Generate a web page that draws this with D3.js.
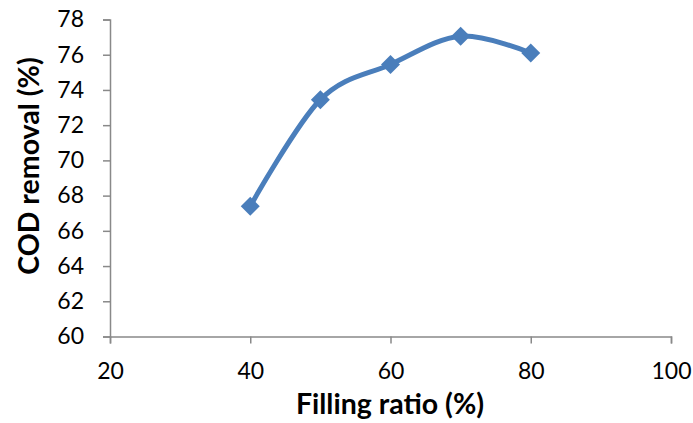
<!DOCTYPE html>
<html><head><meta charset="utf-8">
<script src="https://cdn.jsdelivr.net/npm/d3@7"></script>
<style>body{margin:0;background:#fff}</style>
</head><body>
<svg id="c" width="693" height="423"></svg>
<script>
const fillingRatio = [40, 50, 60, 70, 80];
const codRemoval = [67.4, 73.45, 75.45, 77.05, 76.1];
const xTicks = [20, 40, 60, 80, 100];
const yTicks = [60, 62, 64, 66, 68, 70, 72, 74, 76, 78];
const xTitle = "Filling ratio (%)";
const yTitle = "COD removal (%)";

const svg = d3.select("#c");
const font = "Lato, 'Open Sans', sans-serif";
const x = d3.scaleLinear().domain([20, 100]).range([110, 671]);
const y = d3.scaleLinear().domain([60, 78]).range([336.5, 19.5]);
const axisColor = "#898989";

const xa = svg.append("g").attr("transform", `translate(0,${y(60)})`)
  .call(d3.axisBottom(x).tickValues(xTicks).tickSize(7).tickPadding(19).tickFormat(d3.format("d")));
const ya = svg.append("g").attr("transform", `translate(${x(20)},0)`)
  .call(d3.axisLeft(y).tickValues(yTicks).tickSize(7).tickPadding(19).tickFormat(d3.format("d")));
[xa, ya].forEach(a => {
  a.select(".domain").attr("stroke", axisColor).attr("stroke-width", 1.5);
  a.selectAll(".tick line").attr("stroke", axisColor).attr("stroke-width", 1.5);
  a.selectAll("text").attr("fill", "#000").style("font-family", font).style("font-size", "23px");
});

const line = d3.line().x((d, i) => x(fillingRatio[i])).y(d => y(d)).curve(d3.curveCardinal.tension(0));
svg.append("path").datum(codRemoval).attr("d", line)
  .attr("fill", "none").attr("stroke", "#4a7ebb").attr("stroke-width", 5);

svg.selectAll(".pt").data(codRemoval).enter().append("path")
  .attr("d", d3.symbol().type(d3.symbolDiamond2).size(230))
  .attr("transform", (d, i) => `translate(${x(fillingRatio[i])},${y(d)})`)
  .attr("fill", "#4a7ebb");

svg.append("text").attr("x", 390).attr("y", 414).attr("text-anchor", "middle")
  .style("font-family", font).style("font-weight", "bold").style("font-size", "28.5px").text(xTitle);
svg.append("text").attr("transform", `translate(39,166) rotate(-90)`).attr("text-anchor", "middle")
  .style("font-family", font).style("font-weight", "bold").style("font-size", "28.5px").text(yTitle);
</script>
</body></html>
